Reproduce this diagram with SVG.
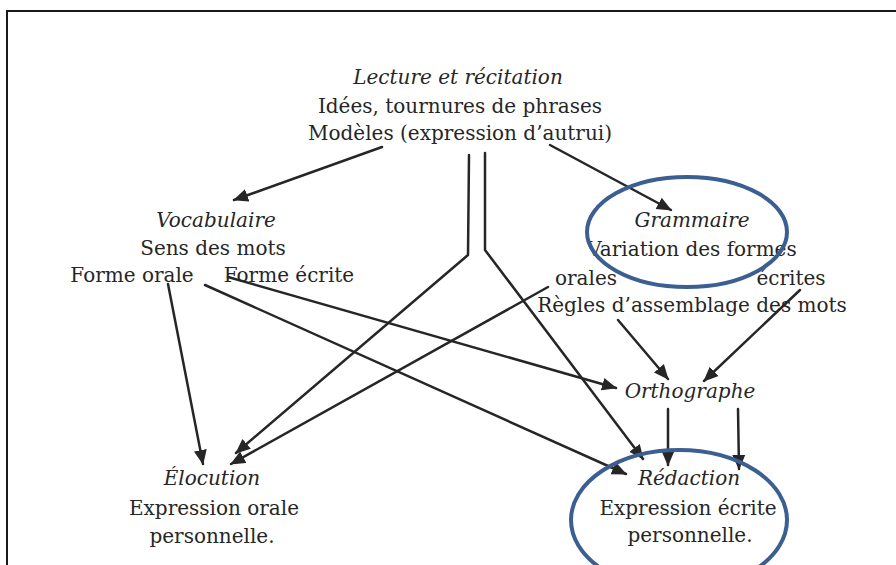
<svg xmlns="http://www.w3.org/2000/svg" width="896" height="565" viewBox="0 0 896 565">
<style>
  text { font-family: "DejaVu Serif", "Liberation Serif", serif; font-size: 20px; fill: #262626; text-anchor: middle; }
  .t { font-style: italic; }
  .c { fill: none; stroke: #262626; stroke-width: 2.5; stroke-linecap: round; stroke-linejoin: round; }
  .a { marker-end: url(#ah); }
  .ring { fill: none; stroke: #3b5f91; stroke-width: 4; }
</style>
<defs>
  <marker id="ah" markerUnits="userSpaceOnUse" markerWidth="17" markerHeight="14" refX="14" refY="6.5" orient="auto" viewBox="0 0 17 13">
    <path d="M0,0 L15,6.5 L0,13 z" fill="#262626"/>
  </marker>
</defs>
<rect width="896" height="565" fill="#ffffff"/>
<path d="M7,566 L7,11 L897,11" fill="none" stroke="#1a1a1a" stroke-width="2"/>

<g id="lecture">
  <text class="t" x="458" y="84">Lecture et récitation</text>
  <text x="460" y="113">Idées, tournures de phrases</text>
  <text x="460" y="140">Modèles (expression d’autrui)</text>
</g>
<g id="vocabulaire">
  <text class="t" x="216" y="227">Vocabulaire</text>
  <text x="213" y="255">Sens des mots</text>
  <text x="132" y="282">Forme orale</text>
  <text x="289" y="282">Forme écrite</text>
</g>
<g id="grammaire">
  <text class="t" x="692" y="227">Grammaire</text>
  <text x="692" y="256">Variation des formes</text>
  <text x="586" y="285">orales</text>
  <text x="791" y="285">écrites</text>
  <text x="692" y="312">Règles d’assemblage des mots</text>
</g>
<g id="orthographe">
  <text class="t" x="690" y="398">Orthographe</text>
</g>
<g id="elocution">
  <text class="t" x="212" y="485">Élocution</text>
  <text x="214" y="515">Expression orale</text>
  <text x="212" y="543">personnelle.</text>
</g>
<g id="redaction">
  <text class="t" x="689" y="485">Rédaction</text>
  <text x="688" y="515">Expression écrite</text>
  <text x="690" y="542">personnelle.</text>
</g>

<g id="connectors">
  <path class="c a" d="M382,147 L234,200"/>
  <path class="c a" d="M550,145 L671,210"/>
  <path class="c a" d="M469,155 L468,255 L236,453"/>
  <path class="c a" d="M485,153 L485,250 L643,459"/>
  <path class="c a" d="M168,284 L203,464"/>
  <path class="c a" d="M205,285 L626,474"/>
  <path class="c a" d="M228,277 L616,388"/>
  <path class="c a" d="M548,287 L231,464"/>
  <path class="c a" d="M618,320 L668,379"/>
  <path class="c a" d="M800,290 L704,381"/>
  <path class="c a" d="M668,409 L668,465"/>
  <path class="c a" d="M738,409 L739,469"/>
</g>

<g id="highlights">
  <ellipse class="ring" cx="687" cy="232" rx="100" ry="55"/>
  <ellipse class="ring" cx="679" cy="520" rx="108" ry="70"/>
</g>
</svg>
